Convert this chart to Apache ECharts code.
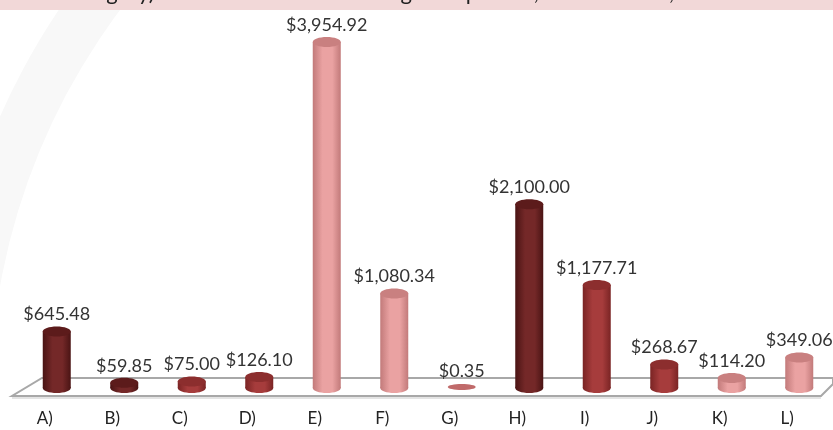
<!DOCTYPE html>
<html>
<head>
<meta charset="utf-8">
<script src="https://cdn.jsdelivr.net/npm/echarts@6/dist/echarts.min.js"></script>
<style>
  html, body { margin: 0; padding: 0; background: #fff; }
  #chart { width: 833px; height: 430px; }
</style>
</head>
<body>
<div id="chart"></div>
<script>
  // categories and values
  var categories = ['A)', 'B)', 'C)', 'D)', 'E)', 'F)', 'G)', 'H)', 'I)', 'J)', 'K)', 'L)'];
  var amounts = [645.48, 59.85, 75.00, 126.10, 3954.92, 1080.34, 0.35, 2100.00, 1177.71, 268.67, 114.20, 349.06];
  var shades = ['dark', 'dark', 'red', 'red', 'pink', 'pink', 'pink', 'dark', 'red', 'red', 'pink', 'pink'];

  // colour sets for the cylinders: edge, body, top
  var palette = {
    dark: { edge: '#4a1414', body: '#742828', top: '#5c1b1b' },
    red:  { edge: '#7a2424', body: '#a63c3c', top: '#8c2e2e' },
    pink: { edge: '#c27a7a', body: '#eaa2a2', top: '#c98080' }
  };

  var chart = echarts.init(document.getElementById('chart'));

  function fmt(v) {
    return '$' + v.toLocaleString('en-US', { minimumFractionDigits: 2, maximumFractionDigits: 2 });
  }

  function renderCylinder(params, api) {
    var idx = params.dataIndex;
    var c = palette[shades[idx]];
    var top = api.coord([api.value(0), api.value(1)]);
    var base = api.coord([api.value(0), 0]);
    var x = top[0] + 12;   // bars sit back on the floor, a bit right of the labels
    var w = 28, ry = 5;
    var h = base[1] - top[1];
    var grad = new echarts.graphic.LinearGradient(0, 0, 1, 0, [
      { offset: 0, color: c.edge },
      { offset: 0.35, color: c.body },
      { offset: 0.7, color: c.body },
      { offset: 1, color: c.edge }
    ]);
    var children = [];
    if (h > 1) {
      children.push({
        type: 'ellipse',
        shape: { cx: x, cy: base[1], rx: w / 2, ry: ry },
        style: { fill: grad }
      });
      children.push({
        type: 'rect',
        shape: { x: x - w / 2, y: top[1], width: w, height: h },
        style: { fill: grad }
      });
      children.push({
        type: 'ellipse',
        shape: { cx: x, cy: top[1], rx: w / 2, ry: ry },
        style: { fill: c.top }
      });
    } else {
      children.push({
        type: 'ellipse',
        shape: { cx: x, cy: base[1] - 1, rx: w / 2, ry: 3 },
        style: { fill: '#c06a6a' }
      });
    }
    children.push({
      type: 'text',
      style: {
        x: x, y: top[1] - ry - 12,
        text: fmt(amounts[idx]),
        align: 'center', verticalAlign: 'middle',
        fontFamily: 'Lato', fontSize: 18, fill: '#333'
      }
    });
    return { type: 'group', children: children };
  }

  var option = {
    backgroundColor: '#fff',
    animation: false,
    graphic: [
      // faint swoosh in the background
      { type: 'ring', z: -10, shape: { cx: 640, cy: 400, r0: 650, r: 700 }, style: { fill: '#f8f8f8' } },
      // title band, cut off at the top
      { type: 'rect', z: -5, shape: { x: 0, y: 0, width: 833, height: 10 }, style: { fill: '#f2d8d8' } },
      { type: 'text', z: -4, style: { x: 416, y: -7, text: 'Amounts Category) Total Amount Paid Among Groups Due, Amount Paid, Shown Each Group', align: 'center', verticalAlign: 'middle', fontFamily: 'Lato', fontSize: 22, fill: '#222' } },
      // floor of the 3D plot
      { type: 'polygon', z: -2, shape: { points: [[42, 378], [833, 378], [833, 384], [821, 396], [12, 396]] }, style: { fill: '#fff', stroke: '#a8a8a8', lineWidth: 2 } },
      { type: 'line', z: -3, shape: { x1: 12, y1: 398, x2: 821, y2: 398 }, style: { stroke: '#e4e4e4', lineWidth: 2 } }
    ],
    grid: { left: 11, right: 12, top: 38, bottom: 42 },
    xAxis: {
      type: 'category',
      data: categories,
      axisLine: { show: false },
      axisTick: { show: false },
      axisLabel: { margin: 22, fontFamily: 'Lato', fontSize: 17, color: '#222' }
    },
    yAxis: {
      type: 'value', min: 0, max: 4000,
      show: false, splitLine: { show: false }
    },
    series: [{
      type: 'custom',
      renderItem: renderCylinder,
      data: amounts.map(function (v, i) { return [i, v]; }),
      z: 5
    }]
  };

  chart.setOption(option);
</script>
</body>
</html>
